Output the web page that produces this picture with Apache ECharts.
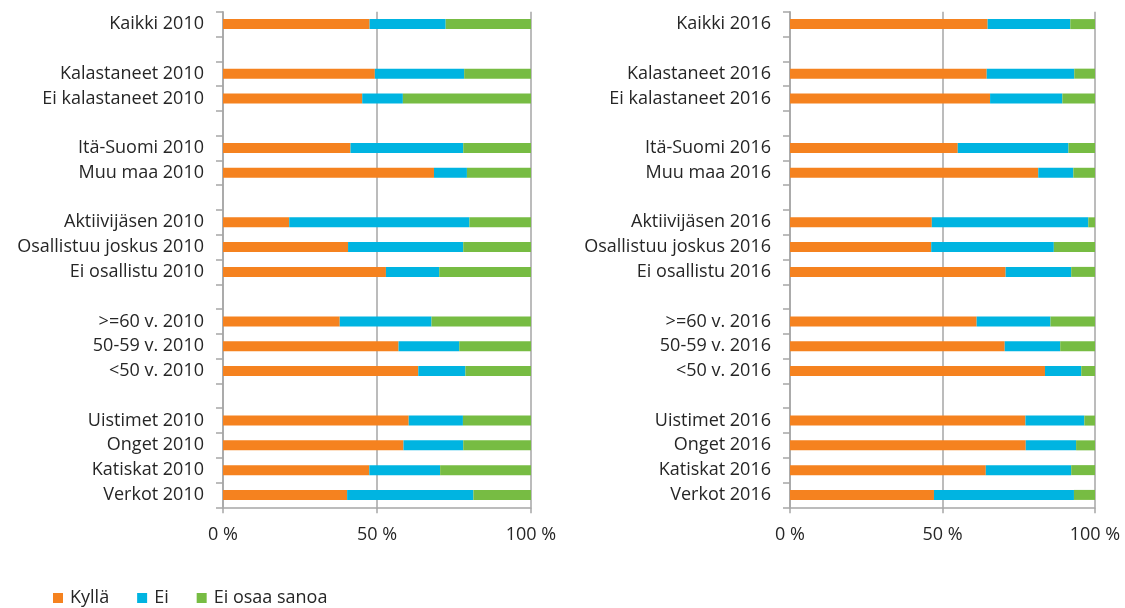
<!DOCTYPE html>
<html>
<head>
<meta charset="utf-8">
<script src="https://cdn.jsdelivr.net/npm/echarts@6/dist/echarts.min.js"></script>
<style>
  html, body { margin: 0; padding: 0; background: #fff; }
  #chart { width: 1125px; height: 608px; }
</style>
</head>
<body>
<div id="chart"></div>
<script>
// Category rows, top to bottom ('' = empty spacer row)
const categories2010 = [
  'Kaikki 2010', '',
  'Kalastaneet 2010', 'Ei kalastaneet 2010', '',
  'Itä-Suomi 2010', 'Muu maa 2010', '',
  'Aktiivijäsen 2010', 'Osallistuu joskus 2010', 'Ei osallistu 2010', '',
  '>=60 v. 2010', '50-59 v. 2010', '<50 v. 2010', '',
  'Uistimet 2010', 'Onget 2010', 'Katiskat 2010', 'Verkot 2010'
]
const categories2016 = [
  'Kaikki 2016', '',
  'Kalastaneet 2016', 'Ei kalastaneet 2016', '',
  'Itä-Suomi 2016', 'Muu maa 2016', '',
  'Aktiivijäsen 2016', 'Osallistuu joskus 2016', 'Ei osallistu 2016', '',
  '>=60 v. 2016', '50-59 v. 2016', '<50 v. 2016', '',
  'Uistimet 2016', 'Onget 2016', 'Katiskat 2016', 'Verkot 2016'
]

// percentages
const kylla2010 = [47.6, null, 49.3, 45.2, null, 41.4, 68.5, null, 21.5, 40.6, 52.9, null, 37.9, 57.0, 63.4, null, 60.3, 58.6, 47.5, 40.3]
const ei2010    = [24.7, null, 29.0, 13.2, null, 36.6, 10.7, null, 58.5, 37.4, 17.3, null, 29.8, 19.7, 15.3, null, 17.6, 19.4, 23.0, 41.0]
const eos2010   = [27.7, null, 21.7, 41.6, null, 22.0, 20.8, null, 20.0, 22.0, 29.8, null, 32.3, 23.3, 21.3, null, 22.1, 22.0, 29.5, 18.7]

const kylla2016 = [64.8, null, 64.5, 65.6, null, 55.0, 81.4, null, 46.5, 46.3, 70.7, null, 61.2, 70.4, 83.6, null, 77.2, 77.3, 64.2, 47.2]
const ei2016    = [27.1, null, 28.7, 23.7, null, 36.3, 11.5, null, 51.3, 40.2, 21.5, null, 24.2, 18.2, 11.9, null, 19.3, 16.5, 28.0, 45.9]
const eos2016   = [8.1, null, 6.8, 10.7, null, 8.7, 7.1, null, 2.2, 13.5, 7.8, null, 14.6, 11.4, 4.5, null, 3.5, 6.2, 7.8, 6.9]

const seriesNames = ['Kyllä', 'Ei', 'Ei osaa sanoa']
const xTicks = [0, 50, 100]

const colors = ['#F5821F', '#00B4E1', '#77BC43']
const axisGray = '#A6A6A6'
const textColor = '#262626'
const font = '"Open Sans", sans-serif'

const chart = echarts.init(document.getElementById('chart'), null, { renderer: 'canvas' })

function xAxis(gridIndex) {
  return {
    type: 'value',
    gridIndex,
    min: xTicks[0],
    max: xTicks[xTicks.length - 1],
    interval: xTicks[1] - xTicks[0],
    axisLine: { show: true, lineStyle: { color: axisGray, width: 1.5 } },
    axisTick: { show: true, length: 6, lineStyle: { color: axisGray, width: 1.5 } },
    splitLine: { show: true, lineStyle: { color: axisGray, width: 1.5 } },
    axisLabel: {
      color: textColor,
      fontFamily: font,
      fontSize: 18,
      margin: 19,
      formatter: '{value} %',
    },
  }
}

function yAxis(gridIndex, data) {
  return {
    type: 'category',
    gridIndex,
    inverse: true,
    data,
    axisLine: { show: true, lineStyle: { color: axisGray, width: 1.5 } },
    axisTick: { show: true, length: 7, lineStyle: { color: axisGray, width: 1.5 } },
    axisLabel: {
      color: textColor,
      fontFamily: font,
      fontSize: 18,
      margin: 19,
      interval: 0,
      padding: [2, 0, 0, 0],
    },
  }
}

function bars(gridIndex, values) {
  return values.map((v, i) => ({
    name: seriesNames[i],
    type: 'bar',
    stack: 'total' + gridIndex,
    xAxisIndex: gridIndex,
    yAxisIndex: gridIndex,
    barWidth: 10,
    itemStyle: { color: colors[i] },
    emphasis: { disabled: true },
    data: v,
  }))
}

const option = {
  animation: false,
  color: colors,
  legend: {
    data: seriesNames,
    left: 48,
    top: 584,
    itemWidth: 10,
    itemHeight: 10,
    itemGap: 28,
    icon: 'rect',
    textStyle: { color: textColor, fontFamily: font, fontSize: 18, padding: [0, 0, 0, 2] },
  },
  grid: [
    { left: 223, top: 11.7, width: 308, height: 495.6 },
    { left: 790, top: 11.7, width: 305, height: 495.6 },
  ],
  xAxis: [xAxis(0), xAxis(1)],
  yAxis: [yAxis(0, categories2010), yAxis(1, categories2016)],
  series: [
    ...bars(0, [kylla2010, ei2010, eos2010]),
    ...bars(1, [kylla2016, ei2016, eos2016]),
  ],
}

chart.setOption(option)
</script>
</body>
</html>
